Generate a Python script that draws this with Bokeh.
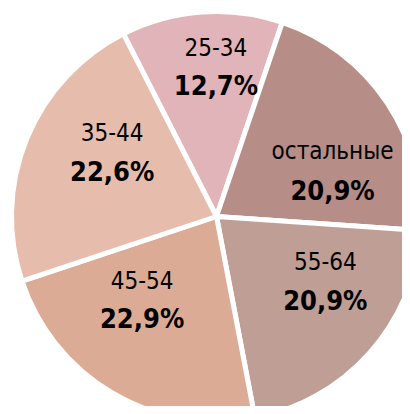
import numpy as np
from bokeh.plotting import figure
from bokeh.models import Range1d, ColumnDataSource
from bokeh.core.properties import value
from bokeh.embed import file_html
from bokeh.resources import INLINE

# ---- data (clockwise from the top-left boundary) ----
categories = ["25-34", "остальные", "55-64", "45-54", "35-44"]
shares = [12.7, 20.9, 20.9, 22.9, 22.6]
pct_labels = ["12,7%", "20,9%", "20,9%", "22,9%", "22,6%"]

# ---- style / layout ----
colors = ["#E0B4B8", "#B68D87", "#BE9E95", "#DBAB95", "#E6BCAC"]
label_angle_deg = [90.2, 21.8, -30.3, 227.9, 148.0]   # label anchors (layout)
label_dist = [151, 125, 126, 111, 123]

W, H = 402, 406
cx, cy, R = 216, 190, 205
start_deg = 117.0
FONT = "DejaVu Sans Condensed"

vals = np.array(shares, dtype=float)
frac = vals / vals.sum()
cum = np.concatenate([[0.0], np.cumsum(frac)])
starts = np.deg2rad(start_deg - 360 * cum[:-1])
ends = np.deg2rad(start_deg - 360 * cum[1:])

src = ColumnDataSource(dict(
    x=[cx] * len(vals), y=[cy] * len(vals),
    start=starts, end=ends, color=colors,
))

p = figure(width=W, height=H, x_range=Range1d(0, W), y_range=Range1d(0, H),
           x_axis_type=None, y_axis_type=None, toolbar_location=None,
           output_backend="svg", min_border=0)
p.outline_line_color = None
p.grid.visible = False
p.background_fill_color = "white"
p.border_fill_color = "white"

p.wedge(x="x", y="y", radius=R, start_angle="start", end_angle="end",
        direction="clock", fill_color="color", line_color="white",
        line_width=5, source=src)

la = np.deg2rad(label_angle_deg)
lx = cx + np.array(label_dist) * np.cos(la)
ly = cy + np.array(label_dist) * np.sin(la)

p.text(x=lx, y=ly + 19, text=categories, text_align="center",
       text_baseline="middle", text_font=value(FONT),
       text_font_size="24px", text_color="black")
p.text(x=lx, y=ly - 20, text=pct_labels, text_align="center",
       text_baseline="middle", text_font=value(FONT),
       text_font_size="27px", text_font_style="bold", text_color="black")

open("out.html", "w").write(file_html(p, INLINE))
